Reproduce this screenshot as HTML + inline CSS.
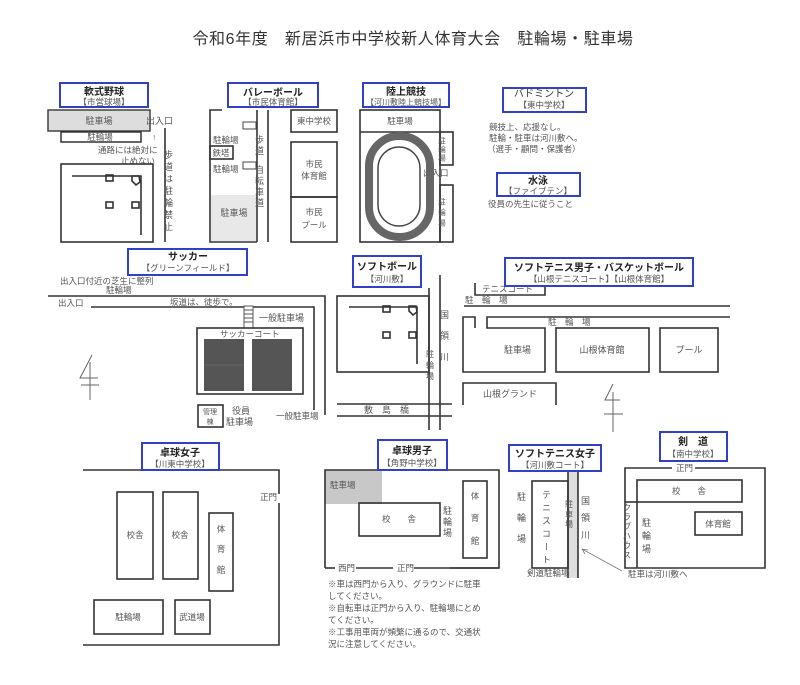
<!DOCTYPE html>
<html><head><meta charset="utf-8"><style>
html,body{margin:0;padding:0;background:#fff;}
svg{display:block;font-family:"Liberation Sans","Noto Sans CJK JP",sans-serif;}
.l{stroke:#333;stroke-width:1.6;fill:none}
.r{stroke:#333;stroke-width:1.6;fill:none}
.b{stroke:#3040c8;stroke-width:2;fill:#fff}
.t{font-size:9px;fill:#555}
.h{font-size:10px;fill:#222;font-weight:bold}
.s{font-size:8.5px;fill:#555}
.v{font-size:9px;fill:#555;writing-mode:tb;letter-spacing:2px}
</style></head><body>
<svg width="800" height="685" viewBox="0 0 800 685">
<text x="413" y="44" text-anchor="middle" font-size="16" letter-spacing="0.6" fill="#333">令和6年度　新居浜市中学校新人体育大会　駐輪場・駐車場</text>

<!-- 軟式野球 -->
<rect x="48" y="110" width="102" height="21" fill="#ddd" stroke="#444" stroke-width="1.5"/>
<text x="99" y="124" text-anchor="middle" class="t">駐車場</text>
<rect x="61" y="132" width="80" height="10" fill="#fff" stroke="#333" stroke-width="1.5"/>
<text x="100" y="140" text-anchor="middle" class="s">駐輪場</text>
<text x="146" y="124" class="t">出入口</text>
<line x1="165" y1="128" x2="165" y2="242" class="l"/>
<text x="152" y="140" class="s">↑</text>
<text x="98" y="153" class="s">通路には絶対に</text>
<text x="121" y="164" class="s">止めない</text>
<text x="168" y="150" class="v" style="letter-spacing:3px">歩道は駐輪禁止</text>
<rect x="61" y="164" width="92" height="78" class="r"/>
<polyline points="72,176 141,176 141,235" class="l" stroke-width="1.2"/>
<rect x="106" y="175" width="7" height="6" class="r" stroke-width="1"/>
<rect x="106" y="202" width="7" height="6" class="r" stroke-width="1"/>
<rect x="132" y="202" width="7" height="6" class="r" stroke-width="1"/>
<polygon points="132,176 139,176 140,182 136,185 132,181" class="r" stroke-width="1"/>
<rect x="60" y="83" width="88" height="24" class="b"/>
<text x="104" y="95" text-anchor="middle" class="h">軟式野球</text>
<text x="104" y="105" text-anchor="middle" class="s">【市営球場】</text>

<!-- バレーボール -->
<polyline points="222,110 210,110 210,242 257,242" class="l"/>
<line x1="257" y1="110" x2="257" y2="242" class="l"/>
<line x1="268" y1="110" x2="268" y2="242" class="l"/>
<rect x="211" y="195" width="45" height="46" fill="#e8e8e8"/>
<text x="234" y="216" text-anchor="middle" class="t">駐車場</text>
<rect x="243" y="122" width="13" height="7" fill="#fff" stroke="#444" stroke-width="1"/>
<rect x="243" y="162" width="13" height="7" fill="#fff" stroke="#444" stroke-width="1"/>
<text x="213" y="143" class="s">駐輪場</text>
<rect x="210" y="146" width="23" height="13" class="r"/>
<text x="221" y="156" text-anchor="middle" class="s">鉄塔</text>
<text x="213" y="172" class="s">駐輪場</text>
<text x="259" y="135" class="v">歩道</text>
<text x="259" y="165" class="v">自転車道</text>
<rect x="291" y="110" width="46" height="22" class="r"/>
<text x="314" y="124" text-anchor="middle" class="s">東中学校</text>
<rect x="291" y="142" width="46" height="55" class="r"/>
<text x="314" y="167" text-anchor="middle" class="s">市民</text>
<text x="314" y="179" text-anchor="middle" class="s">体育館</text>
<rect x="291" y="197" width="46" height="45" class="r"/>
<text x="314" y="215" text-anchor="middle" class="s">市民</text>
<text x="314" y="228" text-anchor="middle" class="s">プール</text>
<rect x="228" y="83" width="90" height="24" class="b"/>
<text x="273" y="96" text-anchor="middle" class="h">バレーボール</text>
<text x="273" y="105" text-anchor="middle" class="s">【市民体育館】</text>

<!-- 陸上競技 -->
<rect x="360" y="110" width="80" height="132" class="r"/>
<line x1="360" y1="132" x2="440" y2="132" class="l"/>
<text x="400" y="124" text-anchor="middle" class="s">駐車場</text>
<rect x="440" y="132" width="13" height="33" class="r"/>
<text x="442" y="137" class="v" style="font-size:7.5px;letter-spacing:1px">駐輪場</text>
<rect x="440" y="185" width="13" height="57" class="r"/>
<text x="442" y="198" class="v" style="font-size:7.5px;letter-spacing:3px">駐輪場</text>
<text x="423" y="176" class="s">出入口</text>
<rect x="369" y="136" width="61" height="101" rx="30" fill="none" stroke="#666" stroke-width="8"/>
<rect x="378" y="147" width="42" height="79" rx="21" fill="#fff" stroke="#444" stroke-width="1.5"/>
<rect x="363" y="83" width="86" height="24" class="b"/>
<text x="406" y="95" text-anchor="middle" class="h">陸上競技</text>
<text x="406" y="105" text-anchor="middle" class="s" style="font-size:8px">【河川敷陸上競技場】</text>

<!-- バドミントン / 水泳 -->
<rect x="503" y="88" width="83" height="24" class="b"/>
<text x="544" y="97" text-anchor="middle" class="h" style="font-weight:normal;fill:#333">バドミントン</text>
<text x="544" y="108" text-anchor="middle" class="s">【東中学校】</text>
<text x="489" y="130" class="s">競技上、応援なし。</text>
<text x="489" y="141" class="s">駐輪・駐車は河川敷へ。</text>
<text x="487" y="152" class="s">（選手・顧問・保護者）</text>
<rect x="497" y="173" width="83" height="23" class="b"/>
<text x="538" y="184" text-anchor="middle" class="h">水泳</text>
<text x="538" y="194" text-anchor="middle" class="s">【ファイブテン】</text>
<text x="488" y="207" class="s">役員の先生に従うこと</text>

<!-- サッカー -->
<text x="60" y="284" class="s">出入口付近の芝生に整列</text>
<text x="106" y="293" class="s">駐輪場</text>
<polyline points="48,296 325,296 325,415" class="l"/>
<text x="58" y="306" class="s">出入口</text>
<polyline points="91,307 314,307 314,410" class="l"/>
<text x="170" y="305" class="s">坂道は、徒歩で。</text>
<rect x="244" y="306" width="9" height="22" fill="#fff" stroke="#555" stroke-width="1"/>
<path d="M244 310h9M244 314h9M244 318h9M244 322h9" stroke="#555" stroke-width="1"/>
<text x="259" y="321" class="t">一般駐車場</text>
<rect x="197" y="328" width="106" height="66" class="r"/>
<text x="220" y="337" class="s">サッカーコート</text>
<rect x="204" y="339" width="40" height="52" fill="#555"/>
<rect x="252" y="339" width="40" height="52" fill="#555"/>
<line x1="204" y1="365" x2="244" y2="365" stroke="#777" stroke-width="0.6"/>
<rect x="198" y="405" width="25" height="22" class="r"/>
<text x="210" y="414" text-anchor="middle" style="font-size:7px;fill:#555">管理</text>
<text x="210" y="424" text-anchor="middle" style="font-size:7px;fill:#555">棟</text>
<text x="232" y="414" class="t">役員</text>
<text x="226" y="425" class="t">駐車場</text>
<text x="276" y="419" class="s" fill="#777">一般駐車場</text>
<path d="M92 355 L80 378 L98 378 M90 362 L90 400 M81 385 L99 385" stroke="#666" stroke-width="1" fill="none"/>
<rect x="128" y="249" width="119" height="26" class="b"/>
<text x="188" y="260" text-anchor="middle" class="h">サッカー</text>
<text x="188" y="271" text-anchor="middle" class="s">【グリーンフィールド】</text>

<!-- ソフトボール -->
<rect x="337" y="296" width="92" height="76" class="r"/>
<polyline points="349,307 417,307 417,364" class="l" stroke-width="1.2"/>
<rect x="383" y="306" width="7" height="6" class="r" stroke-width="1"/>
<rect x="383" y="332" width="7" height="6" class="r" stroke-width="1"/>
<rect x="409" y="332" width="7" height="6" class="r" stroke-width="1"/>
<polygon points="409,306 416,306 417,312 413,315 409,311" class="r" stroke-width="1"/>
<line x1="429" y1="288" x2="429" y2="430" class="l"/>
<line x1="440" y1="275" x2="440" y2="430" class="l"/>
<line x1="337" y1="404" x2="452" y2="404" class="l"/>
<line x1="337" y1="416" x2="452" y2="416" class="l"/>
<text x="364" y="413" class="t">敷　島　橋</text>
<text x="444" y="310" class="v" style="letter-spacing:12px">国領川</text>
<text x="430" y="350" class="v" style="font-size:8px;letter-spacing:3px">駐輪場</text>
<rect x="353" y="256" width="68" height="31" class="b"/>
<text x="387" y="270" text-anchor="middle" class="h">ソフトボール</text>
<text x="387" y="282" text-anchor="middle" class="s">【河川敷】</text>

<!-- ソフトテニス男子 -->
<polyline points="475,283 475,295 545,295 545,283" class="l"/>
<text x="482" y="292" class="s">テニスコート</text>
<text x="465" y="303" class="s">駐　輪　場</text>
<line x1="464" y1="306" x2="730" y2="306" class="l"/>
<polyline points="730,317 487,317 487,328 545,328 545,372 463,372 463,317 475,317 475,328" class="l"/>
<text x="548" y="325" class="s">駐　輪　場</text>
<text x="504" y="353" class="t">駐車場</text>
<rect x="556" y="328" width="93" height="44" class="r"/>
<text x="602" y="353" text-anchor="middle" class="t">山根体育館</text>
<rect x="660" y="328" width="58" height="44" class="r"/>
<text x="689" y="353" text-anchor="middle" class="t">プール</text>
<polyline points="463,405 463,383 556,383 556,405" class="l"/>
<text x="483" y="397" class="t">山根グランド</text>
<path d="M613 384 L605 400 L620 400 M613 392 L613 432 M604 414 L623 414" stroke="#666" stroke-width="1" fill="none"/>
<rect x="505" y="258" width="188" height="28" class="b"/>
<text x="599" y="271" text-anchor="middle" class="h">ソフトテニス男子・バスケットボール</text>
<text x="599" y="282" text-anchor="middle" class="s">【山根テニスコート】【山根体育館】</text>

<!-- 卓球女子 -->
<polyline points="83,470 279,470 279,494" class="l"/>
<polyline points="279,503 279,645 83,645" class="l"/>
<text x="260" y="500" class="s">正門</text>
<rect x="117" y="492" width="36" height="87" class="r"/>
<text x="135" y="538" text-anchor="middle" class="s">校舎</text>
<rect x="163" y="492" width="35" height="87" class="r"/>
<text x="180" y="538" text-anchor="middle" class="s">校舎</text>
<rect x="209" y="513" width="24" height="78" class="r"/>
<text x="221" y="532" text-anchor="middle" class="s">体</text>
<text x="221" y="552" text-anchor="middle" class="s">育</text>
<text x="221" y="573" text-anchor="middle" class="s">館</text>
<rect x="94" y="600" width="69" height="34" class="r"/>
<text x="128" y="620" text-anchor="middle" class="s">駐輪場</text>
<rect x="175" y="600" width="35" height="34" class="r"/>
<text x="192" y="620" text-anchor="middle" class="s">武道場</text>
<rect x="142" y="443" width="77" height="27" class="b"/>
<text x="180" y="456" text-anchor="middle" class="h">卓球女子</text>
<text x="180" y="467" text-anchor="middle" class="s">【川東中学校】</text>

<!-- 卓球男子 -->
<rect x="325" y="470" width="57" height="34" fill="#c8c8c8"/>
<text x="330" y="488" class="s">駐車場</text>
<polyline points="325,568 325,470 499,470 499,568 450,568" class="l"/>
<line x1="325" y1="568" x2="335" y2="568" class="l"/>
<line x1="356" y1="568" x2="393" y2="568" class="l"/>
<line x1="414" y1="568" x2="499" y2="568" class="l"/>
<text x="338" y="571" class="s">西門</text>
<text x="397" y="571" class="s">正門</text>
<rect x="359" y="503" width="81" height="33" class="r"/>
<text x="399" y="522" text-anchor="middle" class="s">校　　舎</text>
<text x="447" y="506" class="v">駐輪場</text>
<rect x="463" y="481" width="24" height="77" class="r"/>
<text x="475" y="499" text-anchor="middle" class="s">体</text>
<text x="475" y="521" text-anchor="middle" class="s">育</text>
<text x="475" y="544" text-anchor="middle" class="s">館</text>
<text x="328" y="587" class="s">※車は西門から入り、グラウンドに駐車</text>
<text x="328" y="599" class="s">してください。</text>
<text x="328" y="611" class="s">※自転車は正門から入り、駐輪場にとめ</text>
<text x="328" y="623" class="s">てください。</text>
<text x="328" y="635" class="s">※工事用車両が頻繁に通るので、交通状</text>
<text x="328" y="647" class="s">況に注意してください。</text>
<rect x="378" y="440" width="69" height="30" class="b"/>
<text x="412" y="454" text-anchor="middle" class="h">卓球男子</text>
<text x="412" y="466" text-anchor="middle" class="s">【角野中学校】</text>

<!-- ソフトテニス女子 -->
<rect x="568" y="470" width="10" height="108" fill="#ddd"/>
<line x1="568" y1="470" x2="568" y2="578" class="l"/>
<line x1="578" y1="470" x2="578" y2="578" class="l"/>
<rect x="532" y="481" width="36" height="87" class="r"/>
<text x="546" y="490" class="v" style="letter-spacing:4px">テニスコート</text>
<text x="569" y="500" class="v" style="font-size:8px">駐車場</text>
<text x="521" y="492" class="v" style="letter-spacing:12px">駐輪場</text>
<text x="585" y="496" class="v" style="letter-spacing:8px">国領川</text>
<text x="527" y="576" class="s">剣道駐輪場</text>
<line x1="622" y1="571" x2="582" y2="549" stroke="#777" stroke-width="0.8"/>
<path d="M582 549 l6 1 M582 549 l3 5" stroke="#777" stroke-width="0.8"/>
<rect x="509" y="445" width="92" height="26" class="b"/>
<text x="555" y="457" text-anchor="middle" class="h">ソフトテニス女子</text>
<text x="555" y="468" text-anchor="middle" class="s">【河川敷コート】</text>

<!-- 剣道 -->
<polyline points="672,468 625,468 625,568 765,568 765,468 695,468" class="l"/>
<text x="676" y="471" class="s">正門</text>
<rect x="637" y="480" width="105" height="22" class="r"/>
<text x="689" y="494" text-anchor="middle" class="s">校　　舎</text>
<line x1="637" y1="502" x2="637" y2="568" class="l"/>
<line x1="625" y1="502" x2="637" y2="502" class="l"/>
<text x="627" y="503" class="v" style="font-size:8.5px;letter-spacing:1px">クラブハウス</text>
<text x="646" y="518" class="v" style="letter-spacing:4px">駐輪場</text>
<rect x="695" y="512" width="47" height="23" class="r"/>
<text x="718" y="527" text-anchor="middle" class="s">体育館</text>
<text x="628" y="577" class="s">駐車は河川敷へ</text>
<rect x="660" y="432" width="67" height="29" class="b"/>
<text x="693" y="445" text-anchor="middle" class="h">剣　道</text>
<text x="693" y="457" text-anchor="middle" class="s">【南中学校】</text>
</svg>
</body></html>
